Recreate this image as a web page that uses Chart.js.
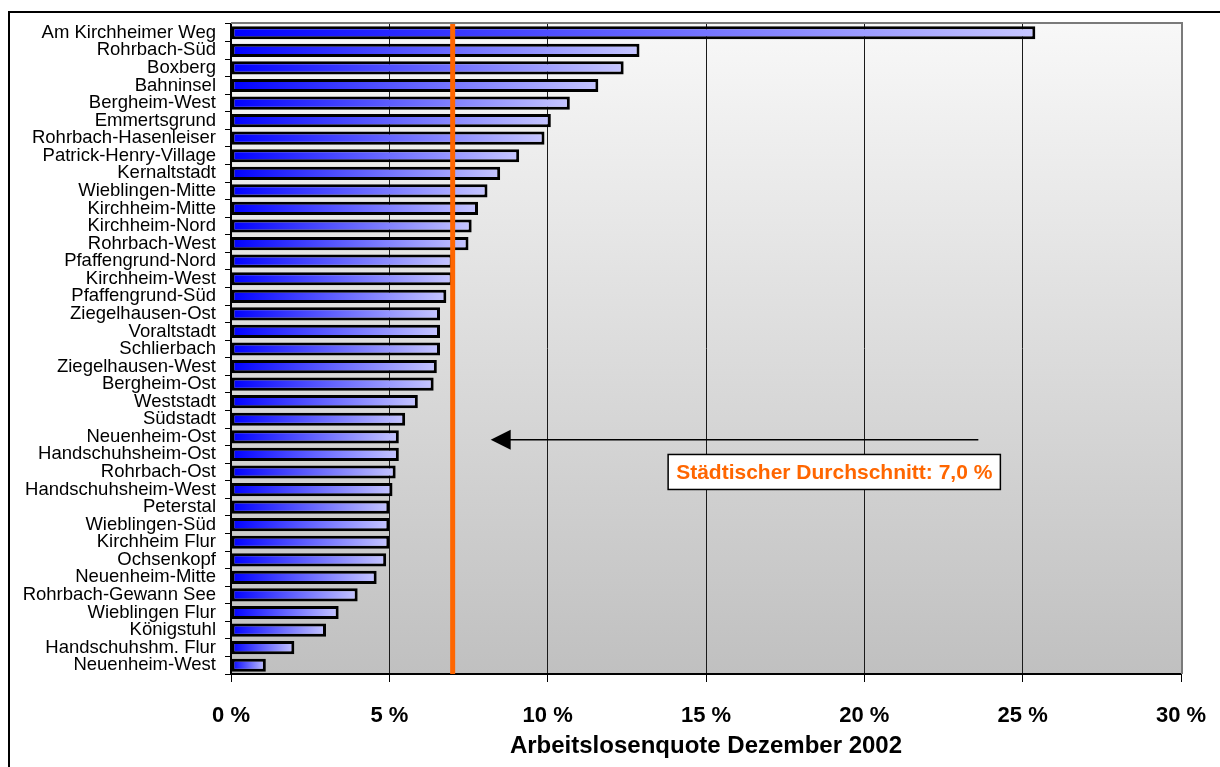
<!DOCTYPE html>
<html>
<head>
<meta charset="utf-8">
<script src="https://cdn.jsdelivr.net/npm/chart.js@4.4.1/dist/chart.umd.min.js"></script>
<style>
  html, body { margin: 0; padding: 0; background: #ffffff; }
  canvas { display: block; }
</style>
</head>
<body>
<canvas id="chart" width="1220" height="767"></canvas>
<script>
// Stadtteile, sortiert nach Arbeitslosenquote
const districts = [
  'Am Kirchheimer Weg', 'Rohrbach-Süd', 'Boxberg', 'Bahninsel', 'Bergheim-West',
  'Emmertsgrund', 'Rohrbach-Hasenleiser', 'Patrick-Henry-Village', 'Kernaltstadt',
  'Wieblingen-Mitte', 'Kirchheim-Mitte', 'Kirchheim-Nord', 'Rohrbach-West',
  'Pfaffengrund-Nord', 'Kirchheim-West', 'Pfaffengrund-Süd', 'Ziegelhausen-Ost',
  'Voraltstadt', 'Schlierbach', 'Ziegelhausen-West', 'Bergheim-Ost', 'Weststadt',
  'Südstadt', 'Neuenheim-Ost', 'Handschuhsheim-Ost', 'Rohrbach-Ost',
  'Handschuhsheim-West', 'Peterstal', 'Wieblingen-Süd', 'Kirchheim Flur',
  'Ochsenkopf', 'Neuenheim-Mitte', 'Rohrbach-Gewann See', 'Wieblingen Flur',
  'Königstuhl', 'Handschuhshm. Flur', 'Neuenheim-West'
];

// Arbeitslosenquote in Prozent
const rates = [
  25.4, 12.9, 12.4, 11.6, 10.7,
  10.1, 9.9, 9.1, 8.5,
  8.1, 7.8, 7.6, 7.5,
  7.0, 7.0, 6.8, 6.6,
  6.6, 6.6, 6.5, 6.4, 5.9,
  5.5, 5.3, 5.3, 5.2,
  5.1, 5.0, 5.0, 5.0,
  4.9, 4.6, 4.0, 3.4,
  3.0, 2.0, 1.1
];

// Achsenbeschriftung
const xTickValues = [0, 5, 10, 15, 20, 25, 30];
const xTickLabels = ['0 %', '5 %', '10 %', '15 %', '20 %', '25 %', '30 %'];
const axisTitle = 'Arbeitslosenquote Dezember 2002';

// Städtischer Durchschnitt
const cityAverage = 7.0;
const averageLabel = 'Städtischer Durchschnitt: 7,0 %';
// Hinweispfeil (Quote von / bis) und Lage des Textfelds
const arrowFrom = 23.6;
const arrowTo = 8.2;
const arrowRow = 'Neuenheim-Ost';
const boxCenter = 19.05;
const boxRow = 'Rohrbach-Ost';

const FONT = '"Liberation Sans", Arial, Helvetica, sans-serif';
const ORANGE = '#ff6600';

function barGradient(ctx) {
  const chart = ctx.chart;
  if (!chart.chartArea || ctx.type !== 'data') return '#4848ff';
  const xs = chart.scales.x;
  const x0 = xs.getPixelForValue(0);
  const x1 = xs.getPixelForValue(ctx.raw);
  const g = chart.ctx.createLinearGradient(x0, 0, Math.max(x1, x0 + 1), 0);
  g.addColorStop(0, '#0000ff');
  g.addColorStop(1, '#c6c6ff');
  return g;
}

const decorations = {
  id: 'decorations',
  beforeDraw(chart) {
    const { ctx, chartArea: a } = chart;
    ctx.save();
    ctx.fillStyle = '#ffffff';
    ctx.fillRect(0, 0, chart.width, chart.height);
    // Rahmen um die Grafik
    ctx.strokeStyle = '#000000';
    ctx.lineWidth = 2;
    ctx.beginPath();
    ctx.moveTo(9, chart.height + 2);
    ctx.lineTo(9, 12);
    ctx.lineTo(chart.width + 2, 12);
    ctx.stroke();
    // Zeichenfläche mit Verlauf
    const g = ctx.createLinearGradient(0, a.top, 0, a.bottom);
    g.addColorStop(0, '#f8f8f8');
    g.addColorStop(1, '#c0c0c0');
    ctx.fillStyle = g;
    ctx.fillRect(a.left, a.top, a.right - a.left, a.bottom - a.top);
    ctx.restore();
  },
  afterDatasetsDraw(chart) {
    const { ctx, chartArea: a, scales: { x, y } } = chart;
    ctx.save();
    // Rand oben und rechts
    ctx.strokeStyle = '#7a7a7a';
    ctx.lineWidth = 2;
    ctx.beginPath();
    ctx.moveTo(a.left, a.top - 1);
    ctx.lineTo(a.right + 1, a.top - 1);
    ctx.lineTo(a.right + 1, a.bottom);
    ctx.stroke();

    // Durchschnittslinie
    const xa = x.getPixelForValue(cityAverage);
    ctx.strokeStyle = ORANGE;
    ctx.lineWidth = 5;
    ctx.beginPath();
    ctx.moveTo(xa, a.top);
    ctx.lineTo(xa, a.bottom);
    ctx.stroke();

    // Pfeil
    const ay = y.getPixelForValue(districts.indexOf(arrowRow)) + 3;
    const xFrom = x.getPixelForValue(arrowFrom);
    const xTo = x.getPixelForValue(arrowTo);
    ctx.strokeStyle = '#000000';
    ctx.lineWidth = 1.5;
    ctx.beginPath();
    ctx.moveTo(xFrom, ay);
    ctx.lineTo(xTo + 16, ay);
    ctx.stroke();
    ctx.fillStyle = '#000000';
    ctx.beginPath();
    ctx.moveTo(xTo, ay);
    ctx.lineTo(xTo + 20, ay - 10);
    ctx.lineTo(xTo + 20, ay + 10);
    ctx.closePath();
    ctx.fill();

    // Textfeld
    ctx.font = 'bold 21px ' + FONT;
    const tw = ctx.measureText(averageLabel).width;
    const cx = x.getPixelForValue(boxCenter);
    const cy = y.getPixelForValue(districts.indexOf(boxRow));
    const bw = tw + 16, bh = 35;
    ctx.fillStyle = '#ffffff';
    ctx.fillRect(cx - bw / 2, cy - bh / 2, bw, bh);
    ctx.strokeStyle = '#000000';
    ctx.lineWidth = 1.5;
    ctx.strokeRect(cx - bw / 2, cy - bh / 2, bw, bh);
    ctx.fillStyle = ORANGE;
    ctx.textAlign = 'center';
    ctx.textBaseline = 'middle';
    ctx.fillText(averageLabel, cx, cy + 1);
    ctx.restore();
  }
};

new Chart(document.getElementById('chart'), {
  type: 'bar',
  data: {
    labels: districts,
    datasets: [{
      data: rates,
      backgroundColor: barGradient,
      borderColor: '#000000',
      borderWidth: 3,
      borderSkipped: false,
      inflateAmount: 0,
      categoryPercentage: 1,
      barPercentage: 0.75
    }]
  },
  options: {
    indexAxis: 'y',
    responsive: false,
    animation: false,
    events: [],
    layout: { padding: { top: 24, right: 39, bottom: 0, left: 0 } },
    plugins: { legend: { display: false }, tooltip: { enabled: false } },
    scales: {
      x: {
        min: 0,
        max: 30,
        afterBuildTicks(scale) {
          scale.ticks = xTickValues.map(v => ({ value: v }));
        },
        afterFit(scale) {
          scale.height = 93;
          scale.paddingLeft = 0;
          scale.paddingRight = 0;
        },
        ticks: {
          autoSkip: false,
          maxRotation: 0,
          padding: 21,
          color: '#000000',
          font: { family: FONT, size: 22, weight: 'bold' },
          callback: (v, i) => xTickLabels[i]
        },
        grid: { color: '#1a1a1a', lineWidth: 1, tickLength: 8, tickColor: '#000000' },
        border: { color: '#000000', width: 2 },
        title: {
          display: true,
          text: axisTitle,
          color: '#000000',
          font: { family: FONT, size: 24, weight: 'bold' },
          padding: { top: 0, bottom: 6 }
        }
      },
      y: {
        afterFit(scale) { scale.width = 231; },
        ticks: {
          autoSkip: false,
          padding: 9,
          color: '#000000',
          font: { family: FONT, size: 18.5 }
        },
        grid: { drawOnChartArea: false, tickLength: 6, color: '#000000', lineWidth: 1 },
        border: { color: '#000000', width: 2 }
      }
    }
  },
  plugins: [decorations]
});
</script>
</body>
</html>
